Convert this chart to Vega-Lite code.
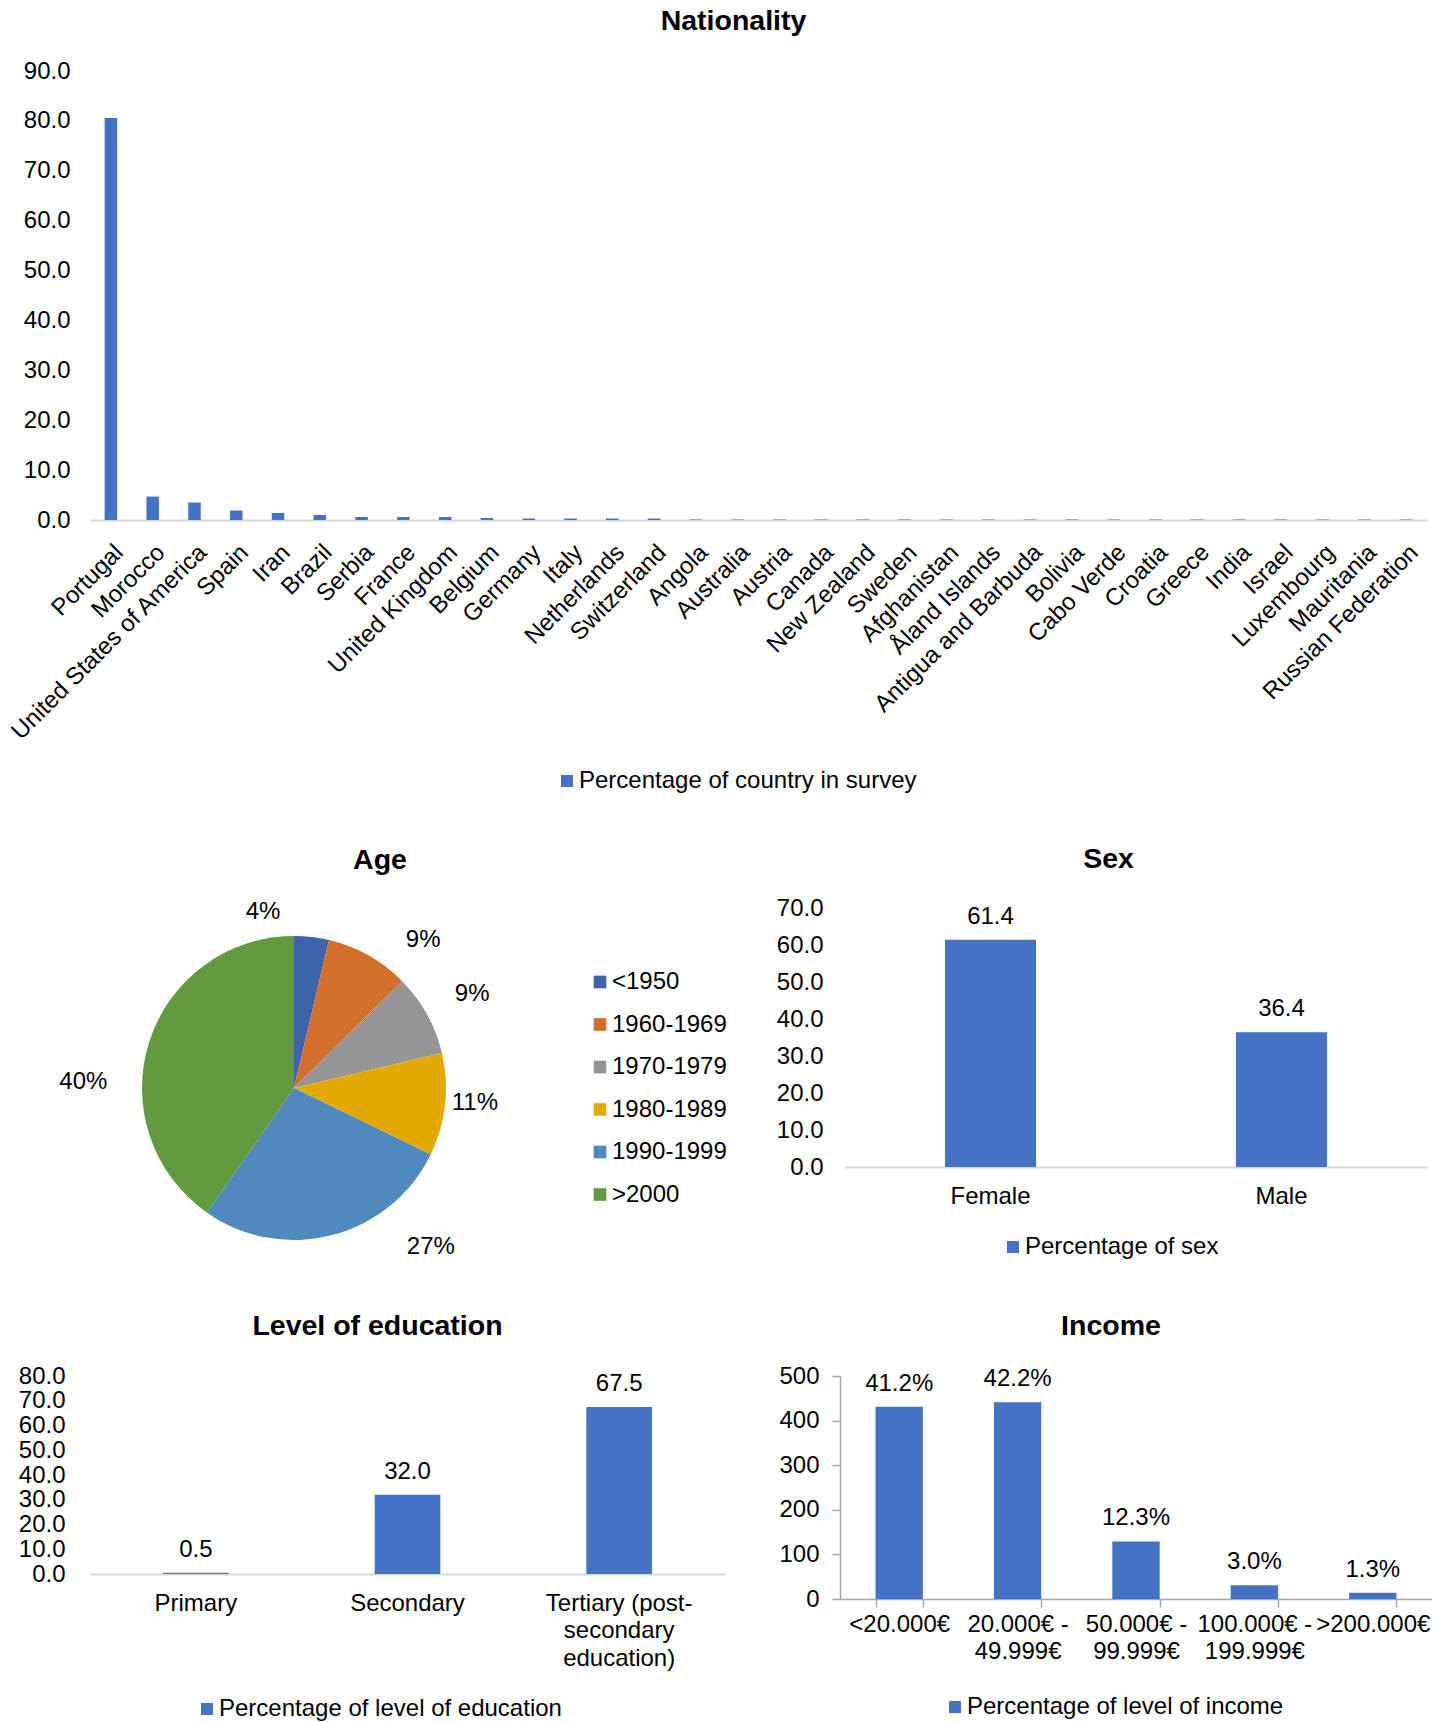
{
  "$schema": "https://vega.github.io/schema/vega-lite/v6.json",
  "padding": {"left": 6, "top": 6, "right": 0, "bottom": 0},
  "background": "white",
  "bounds": "flush",
  "spacing": 388,
  "resolve": {"scale": {"color": "independent"}, "legend": {"color": "independent"}},
  "config": {
    "font": "Liberation Sans",
    "view": {"stroke": null},
    "axis": {"labelFont": "Liberation Sans", "labelFontSize": 24, "labelColor": "#000000", "grid": false},
    "title": {"font": "Liberation Sans", "fontSize": 28.5, "fontWeight": "bold", "color": "#000000", "anchor": "middle", "frame": "group"},
    "legend": {"labelFont": "Liberation Sans", "labelFontSize": 24, "labelColor": "#000000", "labelLimit": 0, "symbolType": "square", "symbolStrokeWidth": 0, "padding": 0},
    "text": {"font": "Liberation Sans", "fontSize": 24, "color": "#000000"}
  },
  "vconcat": [
    {
      "width": 1337,
      "height": 449,
      "title": {"text": "Nationality", "dx": -25, "offset": 24},
      "data": {"values": [
        {"country": "Portugal", "pct": 80.6},
        {"country": "Morocco", "pct": 4.7},
        {"country": "United States of America", "pct": 3.5},
        {"country": "Spain", "pct": 1.9},
        {"country": "Iran", "pct": 1.4},
        {"country": "Brazil", "pct": 1.0},
        {"country": "Serbia", "pct": 0.6},
        {"country": "France", "pct": 0.6},
        {"country": "United Kingdom", "pct": 0.6},
        {"country": "Belgium", "pct": 0.4},
        {"country": "Germany", "pct": 0.3},
        {"country": "Italy", "pct": 0.3},
        {"country": "Netherlands", "pct": 0.3},
        {"country": "Switzerland", "pct": 0.3},
        {"country": "Angola", "pct": 0.1},
        {"country": "Australia", "pct": 0.1},
        {"country": "Austria", "pct": 0.1},
        {"country": "Canada", "pct": 0.1},
        {"country": "New Zealand", "pct": 0.1},
        {"country": "Sweden", "pct": 0.1},
        {"country": "Afghanistan", "pct": 0.1},
        {"country": "Åland Islands", "pct": 0.1},
        {"country": "Antigua and Barbuda", "pct": 0.1},
        {"country": "Bolivia", "pct": 0.1},
        {"country": "Cabo Verde", "pct": 0.1},
        {"country": "Croatia", "pct": 0.1},
        {"country": "Greece", "pct": 0.1},
        {"country": "India", "pct": 0.1},
        {"country": "Israel", "pct": 0.1},
        {"country": "Luxembourg", "pct": 0.1},
        {"country": "Mauritania", "pct": 0.1},
        {"country": "Russian Federation", "pct": 0.1}
      ]},
      "mark": {"type": "bar"},
      "encoding": {
        "x": {"field": "country", "type": "nominal", "sort": null,
              "scale": {"paddingInner": 0.7, "paddingOuter": 0.35},
              "axis": {"title": null, "labelAngle": -45, "ticks": false, "tickSize": 0, "labelPadding": 20, "domainColor": "#D9D9D9", "domainWidth": 2, "labelLimit": 0, "labelOverlap": false}},
        "y": {"field": "pct", "type": "quantitative", "scale": {"domain": [0, 90]},
              "axis": {"title": null, "values": [0, 10, 20, 30, 40, 50, 60, 70, 80, 90], "format": ".1f", "domain": false, "ticks": false, "tickSize": 0, "labelPadding": 20}},
        "color": {"datum": "Percentage of country in survey", "type": "nominal", "scale": {"range": ["#4472C4"]},
                  "legend": {"title": null, "orient": "none", "legendX": 465, "legendY": 698, "symbolSize": 144, "labelOffset": 0}}
      }
    },
    {
      "bounds": "flush",
      "spacing": 468,
      "resolve": {"scale": {"color": "independent"}, "legend": {"color": "independent"}},
      "vconcat": [
        {
          "bounds": "flush",
          "spacing": 347,
          "resolve": {"scale": {"color": "independent"}, "legend": {"color": "independent"}},
          "hconcat": [
            {
              "width": 408,
              "height": 360,
              "title": {"text": "Age", "dx": 86, "dy": 16, "offset": 20},
              "data": {"values": [
                {"k": 1, "group": "<1950", "share": 3.7, "label": "4%"},
                {"k": 2, "group": "1960-1969", "share": 8.9, "label": "9%"},
                {"k": 3, "group": "1970-1979", "share": 8.7, "label": "9%"},
                {"k": 4, "group": "1980-1989", "share": 10.9, "label": "11%"},
                {"k": 5, "group": "1990-1999", "share": 27.5, "label": "27%"},
                {"k": 6, "group": ">2000", "share": 40.3, "label": "40%"}
              ]},
              "encoding": {
                "theta": {"field": "share", "type": "quantitative", "stack": true},
                "order": {"field": "k", "type": "quantitative"}
              },
              "layer": [
                {
                  "mark": {"type": "arc", "outerRadius": 152},
                  "encoding": {
                    "color": {"field": "group", "type": "nominal",
                              "scale": {"domain": ["<1950", "1960-1969", "1970-1979", "1980-1989", "1990-1999", ">2000"],
                                        "range": ["#3F64AC", "#D46E2B", "#959595", "#E2AA00", "#4F89BD", "#629A3F"]},
                              "legend": {"title": null, "orient": "none", "legendX": 498, "legendY": 62, "symbolSize": 160, "rowPadding": 18.5, "labelOffset": 0}}
                  }
                },
                {
                  "mark": {"type": "text", "radius": 182, "dx": -52, "dy": 5},
                  "encoding": {"text": {"condition": {"test": "datum.k == 1", "field": "label"}, "value": ""}}
                },
                {
                  "mark": {"type": "text", "radius": 182, "dx": 40, "dy": 11},
                  "encoding": {"text": {"condition": {"test": "datum.k == 2", "field": "label"}, "value": ""}}
                },
                {
                  "mark": {"type": "text", "radius": 182, "dx": 19, "dy": -6},
                  "encoding": {"text": {"condition": {"test": "datum.k == 3", "field": "label"}, "value": ""}}
                },
                {
                  "mark": {"type": "text", "radius": 182, "dx": 0, "dy": -5},
                  "encoding": {"text": {"condition": {"test": "datum.k == 4", "field": "label"}, "value": ""}}
                },
                {
                  "mark": {"type": "text", "radius": 182, "dx": 91, "dy": -17},
                  "encoding": {"text": {"condition": {"test": "datum.k == 5", "field": "label"}, "value": ""}}
                },
                {
                  "mark": {"type": "text", "radius": 182, "dx": -37, "dy": 49},
                  "encoding": {"text": {"condition": {"test": "datum.k == 6", "field": "label"}, "value": ""}}
                }
              ]
            },
            {
              "width": 582,
              "height": 259,
              "title": {"text": "Sex", "dx": -27.5, "offset": 23},
              "data": {"values": [
                {"sex": "Female", "pct": 61.4},
                {"sex": "Male", "pct": 36.4}
              ]},
              "encoding": {
                "x": {"field": "sex", "type": "nominal", "sort": null,
                      "scale": {"paddingInner": 0.687, "paddingOuter": 0.3435},
                      "axis": {"title": null, "labelAngle": 0, "ticks": false, "tickSize": 0, "labelPadding": 17, "domainColor": "#D9D9D9", "domainWidth": 2}},
                "y": {"field": "pct", "type": "quantitative", "scale": {"domain": [0, 70]},
                      "axis": {"title": null, "values": [0, 10, 20, 30, 40, 50, 60, 70], "format": ".1f", "domain": false, "ticks": false, "tickSize": 0, "labelPadding": 22}}
              },
              "layer": [
                {
                  "mark": {"type": "bar"},
                  "encoding": {
                    "color": {"datum": "Percentage of sex", "type": "nominal", "scale": {"range": ["#4472C4"]},
                              "legend": {"title": null, "orient": "none", "legendX": 156, "legendY": 327, "symbolSize": 144, "labelOffset": 0}}
                  }
                },
                {
                  "mark": {"type": "text", "baseline": "bottom", "dy": -11},
                  "encoding": {"text": {"field": "pct", "type": "quantitative", "format": ".1f"}}
                }
              ]
            }
          ]
        },
        {
          "bounds": "flush",
          "spacing": 115,
          "resolve": {"scale": {"color": "independent"}, "legend": {"color": "independent"}},
          "hconcat": [
            {
              "width": 635,
              "height": 198,
              "title": {"text": "Level of education", "dx": -30, "offset": 24},
              "data": {"values": [
                {"level": "Primary", "pct": 0.5},
                {"level": "Secondary", "pct": 32.0},
                {"level": "Tertiary (post-secondary education)", "pct": 67.5}
              ]},
              "encoding": {
                "x": {"field": "level", "type": "nominal", "sort": null,
                      "scale": {"paddingInner": 0.69, "paddingOuter": 0.345},
                      "axis": {"title": null, "labelAngle": 0, "ticks": false, "tickSize": 0, "labelPadding": 17, "domainColor": "#D9D9D9", "domainWidth": 2, "labelLimit": 0, "labelLineHeight": 27.5,
                               "labelExpr": "datum.value == 'Tertiary (post-secondary education)' ? ['Tertiary (post-', 'secondary', 'education)'] : datum.label"}},
                "y": {"field": "pct", "type": "quantitative", "scale": {"domain": [0, 80]},
                      "axis": {"title": null, "values": [0, 10, 20, 30, 40, 50, 60, 70, 80], "format": ".1f", "domain": false, "ticks": false, "tickSize": 0, "labelPadding": 25, "labelOverlap": false}}
              },
              "layer": [
                {
                  "mark": {"type": "bar"},
                  "encoding": {
                    "color": {"datum": "Percentage of level of education", "type": "nominal", "scale": {"range": ["#4472C4"]},
                              "legend": {"title": null, "orient": "none", "legendX": 105, "legendY": 321, "symbolSize": 144, "labelOffset": 0}}
                  }
                },
                {
                  "mark": {"type": "text", "baseline": "bottom", "dy": -11},
                  "encoding": {"text": {"field": "pct", "type": "quantitative", "format": ".1f"}}
                }
              ]
            },
            {
              "width": 592,
              "height": 223,
              "title": {"text": "Income", "dx": -25, "offset": 24},
              "data": {"values": [
                {"income": "<20.000€", "n": 431, "pct": 0.412},
                {"income": "20.000€ - 49.999€", "n": 441, "pct": 0.422},
                {"income": "50.000€ - 99.999€", "n": 129, "pct": 0.123},
                {"income": "100.000€ - 199.999€", "n": 31, "pct": 0.030},
                {"income": ">200.000€", "n": 14, "pct": 0.013}
              ]},
              "encoding": {
                "x": {"field": "income", "type": "nominal", "sort": null,
                      "scale": {"paddingInner": 0.6, "paddingOuter": 0.3},
                      "axis": {"title": null, "labelAngle": 0, "ticks": true, "tickSize": 8, "tickBand": "extent", "tickColor": "#A6A6A6", "tickWidth": 1.5, "labelPadding": 5, "domainColor": "#A6A6A6", "domainWidth": 1.5, "labelLimit": 0, "labelOverlap": false, "labelLineHeight": 27.4,
                               "labelExpr": "indexof(datum.label, ' - ') > 0 ? [slice(datum.label, 0, indexof(datum.label, ' - ') + 2), slice(datum.label, indexof(datum.label, ' - ') + 3)] : datum.label"}},
                "y": {"field": "n", "type": "quantitative", "scale": {"domain": [0, 500]},
                      "axis": {"title": null, "values": [0, 100, 200, 300, 400, 500], "format": "d", "domain": true, "domainColor": "#A6A6A6", "domainWidth": 1.5, "ticks": true, "tickSize": 8, "tickColor": "#A6A6A6", "tickWidth": 1.5, "labelPadding": 13}}
              },
              "layer": [
                {
                  "mark": {"type": "bar"},
                  "encoding": {
                    "color": {"datum": "Percentage of level of income", "type": "nominal", "scale": {"range": ["#4472C4"]},
                              "legend": {"title": null, "orient": "none", "legendX": 103, "legendY": 319, "symbolSize": 144, "labelOffset": 0}}
                  }
                },
                {
                  "mark": {"type": "text", "baseline": "bottom", "dy": -11},
                  "encoding": {"text": {"field": "pct", "type": "quantitative", "format": ".1%"}}
                }
              ]
            }
          ]
        }
      ]
    }
  ]
}
